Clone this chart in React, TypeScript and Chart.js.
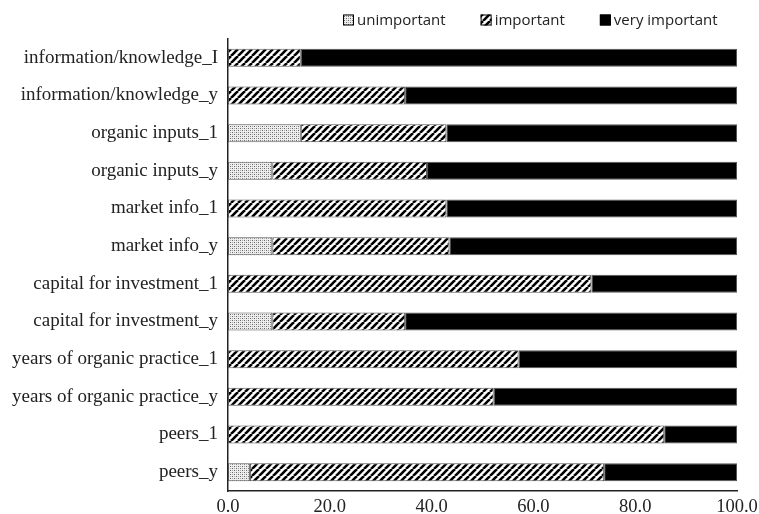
import React, { useEffect, useRef } from "react";
import { Chart, registerables } from "chart.js";

Chart.register(...registerables);

const categories = [
  "information/knowledge_I",
  "information/knowledge_y",
  "organic inputs_1",
  "organic inputs_y",
  "market info_1",
  "market info_y",
  "capital for investment_1",
  "capital for investment_y",
  "years of organic practice_1",
  "years of organic practice_y",
  "peers_1",
  "peers_y",
];

const unimportant = [0, 0, 14.3, 8.7, 0, 8.7, 0, 8.7, 0, 0, 0, 4.3];
const important = [14.3, 34.8, 28.6, 30.4, 42.9, 34.8, 71.4, 26.1, 57.1, 52.2, 85.7, 69.6];
const veryImportant = [85.7, 65.2, 57.1, 60.9, 57.1, 56.5, 28.6, 65.2, 42.9, 47.8, 14.3, 26.1];

const seriesNames = ["unimportant", "important", "very important"];
const xTicks = [0, 20, 40, 60, 80, 100];

function makeDots(): CanvasPattern | string {
  const c = document.createElement("canvas");
  c.width = 4;
  c.height = 4;
  const g = c.getContext("2d");
  if (!g) return "#ccc";
  g.fillStyle = "#eeeeee";
  g.fillRect(0, 0, 4, 4);
  g.fillStyle = "#666666";
  g.fillRect(0, 0, 1, 1);
  g.fillRect(2, 2, 1, 1);
  g.fillStyle = "#a8a8a8";
  g.fillRect(2, 0, 1, 1);
  g.fillRect(0, 2, 1, 1);
  return g.createPattern(c, "repeat") || "#ccc";
}

function makeHatch(): CanvasPattern | string {
  const s = 7;
  const c = document.createElement("canvas");
  c.width = s;
  c.height = s;
  const g = c.getContext("2d");
  if (!g) return "#888";
  g.fillStyle = "#ffffff";
  g.fillRect(0, 0, s, s);
  g.strokeStyle = "#000000";
  g.lineWidth = 2.6;
  for (let k = -1; k <= 1; k++) {
    g.beginPath();
    g.moveTo(k * s, s);
    g.lineTo(k * s + s, 0);
    g.stroke();
  }
  return g.createPattern(c, "repeat") || "#888";
}

export default function App() {
  const ref = useRef<HTMLCanvasElement | null>(null);

  useEffect(() => {
    document.body.style.margin = "0";
    const canvas = ref.current;
    if (!canvas) return;
    const dots = makeDots();
    const hatch = makeHatch();
    const fills = [dots, hatch, "#000000"];

    const legendPlugin = {
      id: "customLegend",
      afterDraw(chart: any) {
        const ctx = chart.ctx;
        ctx.save();
        ctx.font = '15px "Open Sans", "Liberation Sans", sans-serif';
        ctx.textBaseline = "middle";
        let x = 343;
        const y = 20;
        const box = 11;
        seriesNames.forEach((name, i) => {
          ctx.fillStyle = fills[i] as any;
          ctx.fillRect(x, y - box / 2, box, box);
          ctx.strokeStyle = "#000";
          ctx.lineWidth = 1;
          ctx.strokeRect(x + 0.5, y - box / 2 + 0.5, box - 1, box - 1);
          ctx.fillStyle = "#222";
          ctx.textAlign = "left";
          ctx.fillText(name, x + box + 3, y + 1);
          x += box + 3 + ctx.measureText(name).width + 35;
        });
        ctx.restore();
      },
    };

    const data = [unimportant, important, veryImportant];
    const chart = new Chart(canvas, {
      type: "bar",
      data: {
        labels: categories,
        datasets: seriesNames.map((name, i) => ({
          label: name,
          data: data[i],
          backgroundColor: fills[i] as any,
          borderColor: "#555555",
          borderWidth: (c: any) => (c.raw === 0 ? 0 : 1),
          borderSkipped: false,
          barPercentage: 0.48,
          categoryPercentage: 1,
        })),
      },
      options: {
        indexAxis: "y",
        animation: false,
        responsive: false,
        maintainAspectRatio: false,
        layout: { padding: { top: 39, right: 22, left: 0, bottom: 0 } },
        plugins: {
          legend: { display: false },
          tooltip: { enabled: false },
        },
        scales: {
          x: {
            stacked: true,
            min: 0,
            max: 100,
            afterBuildTicks: (scale: any) => {
              scale.ticks = xTicks.map((v) => ({ value: v }));
            },
            ticks: {
              callback: (v: any) => Number(v).toFixed(1),
              color: "#222",
              font: { family: '"Liberation Serif", "Times New Roman", serif', size: 18.5 },
              padding: 5,
              maxRotation: 0,
            },
            grid: { display: false, drawTicks: false },
            border: { display: true, color: "#222", width: 1.5 },
            afterFit: (scale: any) => {
              scale.height = 23;
              scale.paddingLeft = 0;
              scale.paddingRight = 0;
            },
          },
          y: {
            stacked: true,
            ticks: {
              color: "#222",
              font: { family: '"Liberation Serif", "Times New Roman", serif', size: 19 },
              padding: 10,
              autoSkip: false,
            },
            grid: { display: false, drawTicks: false },
            border: { display: true, color: "#222", width: 1.5 },
            afterFit: (scale: any) => {
              scale.width = 228;
              scale.paddingTop = 0;
              scale.paddingBottom = 0;
            },
          },
        },
      },
      plugins: [legendPlugin],
    });
    return () => chart.destroy();
  }, []);

  return (
    <div style={{ width: 759, height: 514, background: "#fff" }}>
      <canvas ref={ref} width={759} height={514} style={{ display: "block", width: 759, height: 514 }} />
    </div>
  );
}
